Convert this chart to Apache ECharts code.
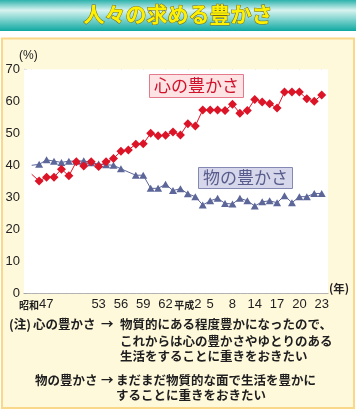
<!DOCTYPE html>
<html><head><meta charset="utf-8">
<script src="https://cdn.jsdelivr.net/npm/echarts@6/dist/echarts.min.js"></script>
<style>html,body{margin:0;padding:0;background:#fff}#c{width:356px;height:410px}</style>
</head><body><div id="c"></div>
<script>
const xLabels = ['昭和47','','','','','','','','','53','','','56','','','59','','','62','','','平成2','','','5','','','8','','','14','','','17','','','20','','','23'];
const heartValues = [37.2,35.1,36.3,36.3,38.8,36.7,41.1,39.8,41.1,39.6,41.1,42.1,44.4,44.8,46.6,46.7,50.0,49.2,49.4,50.4,49.5,53.0,52.3,57.3,57.3,57.3,57.1,59.1,56.3,57.1,60.6,59.8,59.2,57.9,62.9,62.9,62.9,60.8,60.0,62.0];
const goodsValues = [40.0,40.3,41.7,41.3,40.9,41.3,41.3,41.4,40.8,40.4,40.2,40.0,38.9,null,36.9,36.9,32.8,32.8,34.1,32.1,32.7,31.1,30.2,27.6,28.9,29.7,28.1,27.9,29.7,28.9,27.3,28.6,28.9,28.3,30.5,28.3,30.2,30.2,31.2,31.2];
const yTicks = {min:0, max:70, interval:10};
const titleText = '人々の求める豊かさ';
const heartName = '心の豊かさ';
const goodsName = '物の豊かさ';
const noteLines = [
  ['(注)', '心の豊かさ', '→', '物質的にある程度豊かになったので、'],
  ['', '', '', 'これからは心の豊かさやゆとりのある'],
  ['', '', '', '生活をすることに重きをおきたい'],
  ['', '物の豊かさ', '→', 'まだまだ物質的な面で生活を豊かに'],
  ['', '', '', 'することに重きをおきたい']
];

const FONT = '"Liberation Sans", Arial, sans-serif';
const JFONT = '"Noto Sans CJK JP", sans-serif';
const chart = echarts.init(document.getElementById('c'), null, {renderer:'canvas'});

const gridTop = 69.3, gridBottom = 410 - 293.3;
const showLabel = (i, v) => v !== '';

function fmtLabel(v, i){
  const m = v.match(/^(\D*)(\d+)$/);
  if(!m) return v;
  const pre = i === 0 ? '{pad|}' : '';
  return pre + (m[1] ? '{k|' + m[1] + '}' : '') + '{n|' + m[2] + '}';
}

const noteY = [326, 343, 358, 381.5, 397];
const noteX = [[9, 33, 101, 120],[0,0,0,120],[0,0,0,120],[0,35,101,116],[0,0,0,116]];
const noteGraphics = [];
noteLines.forEach((row, r) => {
  row.forEach((t, c) => {
    if(!t) return;
    noteGraphics.push({type:'text', left: noteX[r][c], top: noteY[r] - 8, z: 50,
      style:{text:t, fill:'#1e1e1e', font:'bold 12.5px ' + JFONT}});
  });
});

chart.setOption({
  animation:false,
  backgroundColor:'#ffffff',
  graphic:[
    {type:'rect', z:-5, shape:{x:0,y:0,width:356,height:31},
      style:{fill:new echarts.graphic.LinearGradient(0,0,0,1,[
        {offset:0,color:'#2DB2AC'},{offset:0.33,color:'#D8F3F0'},{offset:0.6,color:'#86D6D1'},{offset:1,color:'#0FA8A1'}])}},
    {type:'text', left:'center', top:3, z:50,
      style:{text:titleText, fill:'#FFF000', font:'bold 21px ' + JFONT,
        stroke:'#6E6A22', lineWidth:1, shadowColor:'rgba(60,60,20,0.7)', shadowOffsetX:1, shadowOffsetY:1, shadowBlur:1}},
    {type:'rect', z:-5, shape:{x:2,y:38.5,width:352,height:369.5},
      style:{fill:'#FFF9DC', stroke:'#FAD889', lineWidth:2}},
    {type:'text', left:19, top:50, z:50, style:{text:'(%)', fill:'#222', font:'12px ' + FONT}},
    {type:'text', left:329, top:283, z:50, style:{text:'(年)', fill:'#222', font:'bold 11.5px ' + JFONT}},
    {type:'rect', z:60, shape:{x:149.5,y:74.5,width:94,height:23}, style:{fill:'#FDE3E3', stroke:'#E57A8C', lineWidth:1}},
    {type:'text', z:61, x:196.5, y:86, style:{text:heartName, fill:'#D0122C', font:'17px ' + JFONT, textAlign:'center', textVerticalAlign:'middle'}},
    {type:'rect', z:60, shape:{x:198.5,y:167.5,width:94,height:21}, style:{fill:'#D6D7EA', stroke:'#8489B4', lineWidth:1}},
    {type:'text', z:61, x:245.5, y:178, style:{text:goodsName, fill:'#575C8C', font:'17px ' + JFONT, textAlign:'center', textVerticalAlign:'middle'}}
  ].concat(noteGraphics),
  grid:[
    {left:24, right:28, top:gridTop, bottom:gridBottom, show:true, backgroundColor:'#ffffff', borderWidth:0, z:1},
    {left:31.7, right:34.3, top:gridTop, bottom:gridBottom, z:2}
  ],
  xAxis:[
    {type:'value', gridIndex:0, min:0, max:1, axisLine:{show:true, lineStyle:{color:'#9a9a9a', width:1}},
      axisTick:{show:false}, axisLabel:{show:false}, splitLine:{show:false}},
    {type:'category', gridIndex:1, data:xLabels, boundaryGap:false,
      axisLine:{show:false},
      axisTick:{show:true, inside:true, length:4, interval:0, lineStyle:{color:'#b8b8b8'}},
      axisLabel:{interval:showLabel, margin:5, color:'#1e1e1e', formatter:fmtLabel,
        rich:{pad:{width:9}, k:{fontSize:10, fontFamily:JFONT, color:'#1e1e1e', fontWeight:'bold'}, n:{fontSize:13, fontFamily:FONT, color:'#1e1e1e'}}},
      splitLine:{show:false}},
    {type:'category', gridIndex:1, data:xLabels, boundaryGap:false,
      axisLine:{show:false},
      axisTick:{show:true, inside:true, length:4, interval:showLabel, lineStyle:{color:'#EE7F96'}},
      axisLabel:{show:false}, splitLine:{show:false}}
  ],
  yAxis:[
    {type:'value', gridIndex:0, min:yTicks.min, max:yTicks.max, interval:yTicks.interval,
      axisLine:{show:true, lineStyle:{color:'#8a8a8a'}},
      axisTick:{show:true, inside:true, length:3, lineStyle:{color:'#8a8a8a'}},
      axisLabel:{margin:4, color:'#222', fontSize:13, fontFamily:FONT},
      splitLine:{show:false}},
    {type:'value', gridIndex:1, min:yTicks.min, max:yTicks.max, show:false, splitLine:{show:false}}
  ],
  series:[
    {name:goodsName, type:'line', xAxisIndex:1, yAxisIndex:1, connectNulls:true, z:3, showAllSymbol:true,
      data: goodsValues.map((v,i)=> i===0 ? {value:v, symbol:'none'} : v),
      symbol:'triangle', symbolSize:[8,7], lineStyle:{color:'#5C6698', width:1},
      itemStyle:{color:'#5C6698'}},
    {name:heartName, type:'line', xAxisIndex:1, yAxisIndex:1, z:4, showAllSymbol:true,
      data: heartValues.map((v,i)=> i===0 ? {value:v, symbol:'none'} : v),
      symbol:'diamond', symbolSize:[9,9], lineStyle:{color:'#DC1428', width:1},
      itemStyle:{color:'#DC1428'}}
  ]
});
</script></body></html>
